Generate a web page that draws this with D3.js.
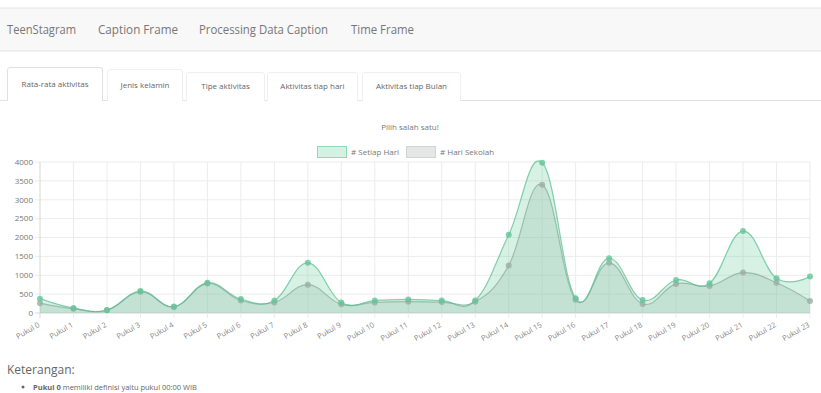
<!DOCTYPE html>
<html>
<head>
<meta charset="utf-8">
<script src="https://cdn.jsdelivr.net/npm/d3@7"></script>
<style>
  body { margin: 0; background: #fff; }
  svg { display: block; font-family: "Open Sans", sans-serif; }
</style>
</head>
<body>
<svg id="page" width="821" height="393"></svg>
<script>
const navItems = ['TeenStagram', 'Caption Frame', 'Processing Data Caption', 'Time Frame'];
const tabLabels = ['Rata-rata aktivitas', 'Jenis kelamin', 'Tipe aktivitas', 'Aktivitas tiap hari', 'Aktivitas tiap Bulan'];
const hours = d3.range(24).map(h => `Pukul ${h}`);
const setiapHari = [380, 130, 80, 580, 170, 800, 370, 330, 1330, 275, 330, 360, 330, 330, 2070, 3980, 390, 1450, 345, 875, 790, 2170, 920, 965];
const hariSekolah = [260, 110, 70, 560, 160, 780, 330, 280, 750, 230, 280, 300, 290, 300, 1260, 3400, 350, 1330, 240, 770, 715, 1070, 800, 320];
const seriesNames = ['# Setiap Hari', '# Hari Sekolah'];
const yTicks = [0, 500, 1000, 1500, 2000, 2500, 3000, 3500, 4000];

const startApp = () => {
  const svg = d3.select('#page');

  // navbar
  svg.append('rect').attr('x', -1).attr('y', 8).attr('width', 823).attr('height', 43)
    .attr('fill', '#f8f8f8').attr('stroke', '#e4e4e4');
  const navX = [7, 98, 199, 351];
  const navW = [69, 80, 129, 63];
  svg.selectAll('.nav').data(navItems).enter().append('text')
    .attr('x', (d, i) => navX[i]).attr('y', 34)
    .attr('textLength', (d, i) => navW[i]).attr('lengthAdjust', 'spacingAndGlyphs')
    .attr('font-size', 12.5).attr('fill', '#777').text(d => d);

  // tabs
  const tabs = [
    { x: 7, w: 96, top: 67 }, { x: 107, w: 76, top: 69 }, { x: 186, w: 79, top: 72 },
    { x: 267, w: 91, top: 72 }, { x: 362, w: 99, top: 72 }
  ];
  svg.append('line').attr('x1', 0).attr('x2', 821).attr('y1', 100.5).attr('y2', 100.5).attr('stroke', '#e2e2e2');
  tabs.forEach((t, i) => {
    const b = 101, r = 3;
    svg.append('path')
      .attr('d', `M${t.x + 0.5},${b}V${t.top + r}Q${t.x + 0.5},${t.top + 0.5} ${t.x + r},${t.top + 0.5}H${t.x + t.w - r}Q${t.x + t.w - 0.5},${t.top + 0.5} ${t.x + t.w - 0.5},${t.top + r}V${b}`)
      .attr('fill', '#fff').attr('stroke', i === 0 ? '#e0e0e0' : '#efefef');
    svg.append('text').attr('x', t.x + t.w / 2).attr('y', (t.top + 100) / 2 + 3)
      .attr('text-anchor', 'middle').attr('font-size', 8).attr('fill', '#666').text(tabLabels[i]);
  });

  // chart
  const margin = { top: 162, left: 40, right: 11, bottom: 80 };
  const width = 821 - margin.left - margin.right;
  const height = 393 - margin.top - margin.bottom;
  const xScale = d3.scalePoint().domain(hours).range([0, width]);
  const yScale = d3.scaleLinear().domain([0, 4000]).range([height, 0]);
  const chart = svg.append('g').attr('transform', `translate(${margin.left}, ${margin.top})`);

  svg.append('text').attr('x', 410).attr('y', 130).attr('text-anchor', 'middle')
    .attr('font-size', 8).attr('fill', '#777').text('Pilih salah satu!');

  const colors = [
    { fill: 'rgba(100,200,150,0.26)', stroke: 'rgba(80,190,140,0.7)', point: '#62c598', box: '#d5f1e3', boxStroke: '#8fdab5' },
    { fill: 'rgba(180,200,190,0.36)', stroke: 'rgba(150,165,158,0.75)', point: '#9eaca5', box: '#e4e7e5', boxStroke: '#cfd3d1' }
  ];
  const legendX = [317, 406];
  seriesNames.forEach((name, i) => {
    svg.append('rect').attr('x', legendX[i] + 0.5).attr('y', 146.5).attr('width', 29).attr('height', 11)
      .attr('fill', colors[i].box).attr('stroke', colors[i].boxStroke);
    svg.append('text').attr('x', legendX[i] + 34).attr('y', 155).attr('font-size', 8)
      .attr('fill', '#777').text(name);
  });

  // grid
  chart.selectAll('.hgrid').data(yTicks).enter().append('line')
    .attr('x1', -5).attr('x2', width).attr('y1', d => yScale(d)).attr('y2', d => yScale(d))
    .attr('stroke', d => d === 0 ? '#d6d6d6' : '#ececec');
  chart.selectAll('.vgrid').data(hours).enter().append('line')
    .attr('x1', d => xScale(d)).attr('x2', d => xScale(d)).attr('y1', 0).attr('y2', height + 5)
    .attr('stroke', (d, i) => i === 0 ? '#d6d6d6' : '#ececec');

  chart.selectAll('.ylab').data(yTicks).enter().append('text')
    .attr('x', -7).attr('y', d => yScale(d)).attr('dy', '0.35em').attr('text-anchor', 'end')
    .attr('font-size', 8).attr('fill', '#777').text(d => d);

  chart.selectAll('.xlab').data(hours).enter().append('text')
    .attr('transform', d => `translate(${xScale(d) - 1}, ${height + 11}) rotate(-30)`)
    .attr('text-anchor', 'end').attr('dy', '0.35em')
    .attr('font-size', 7.5).attr('fill', '#888').text(d => d);

  // series
  chart.append('clipPath').attr('id', 'plot').append('rect')
    .attr('x', 0).attr('y', -10).attr('width', width).attr('height', height + 10);
  const curve = d3.curveCardinal.tension(-0.2);
  const area = d3.area().x((d, i) => xScale(hours[i])).y0(height).y1(d => yScale(d)).curve(curve);
  const line = d3.line().x((d, i) => xScale(hours[i])).y(d => yScale(d)).curve(curve);
  const data = [setiapHari, hariSekolah];
  [1, 0].forEach(i => {
    const g = chart.append('g').attr('clip-path', 'url(#plot)');
    g.append('path').attr('d', area(data[i])).attr('fill', colors[i].fill);
    g.append('path').attr('d', line(data[i])).attr('fill', 'none')
      .attr('stroke', colors[i].stroke).attr('stroke-width', 1.2);
  });
  [1, 0].forEach(i => {
    chart.selectAll(`.pt${i}`).data(data[i]).enter().append('circle')
      .attr('cx', (d, j) => xScale(hours[j])).attr('cy', d => yScale(d)).attr('r', 3)
      .attr('fill', colors[i].point).attr('opacity', 0.8);
  });

  // notes
  svg.append('text').attr('x', 7).attr('y', 374).attr('font-size', 12).attr('fill', '#666').text('Keterangan:');
  svg.append('circle').attr('cx', 23).attr('cy', 387).attr('r', 1.5).attr('fill', '#666');
  const note = svg.append('text').attr('x', 33).attr('y', 390).attr('font-size', 7.5).attr('fill', '#666');
  note.append('tspan').attr('font-weight', 'bold').text('Pukul 0');
  note.append('tspan').text(' memiliki definisi yaitu pukul 00:00 WIB');
};

window.onload = startApp;
</script>
</body>
</html>
